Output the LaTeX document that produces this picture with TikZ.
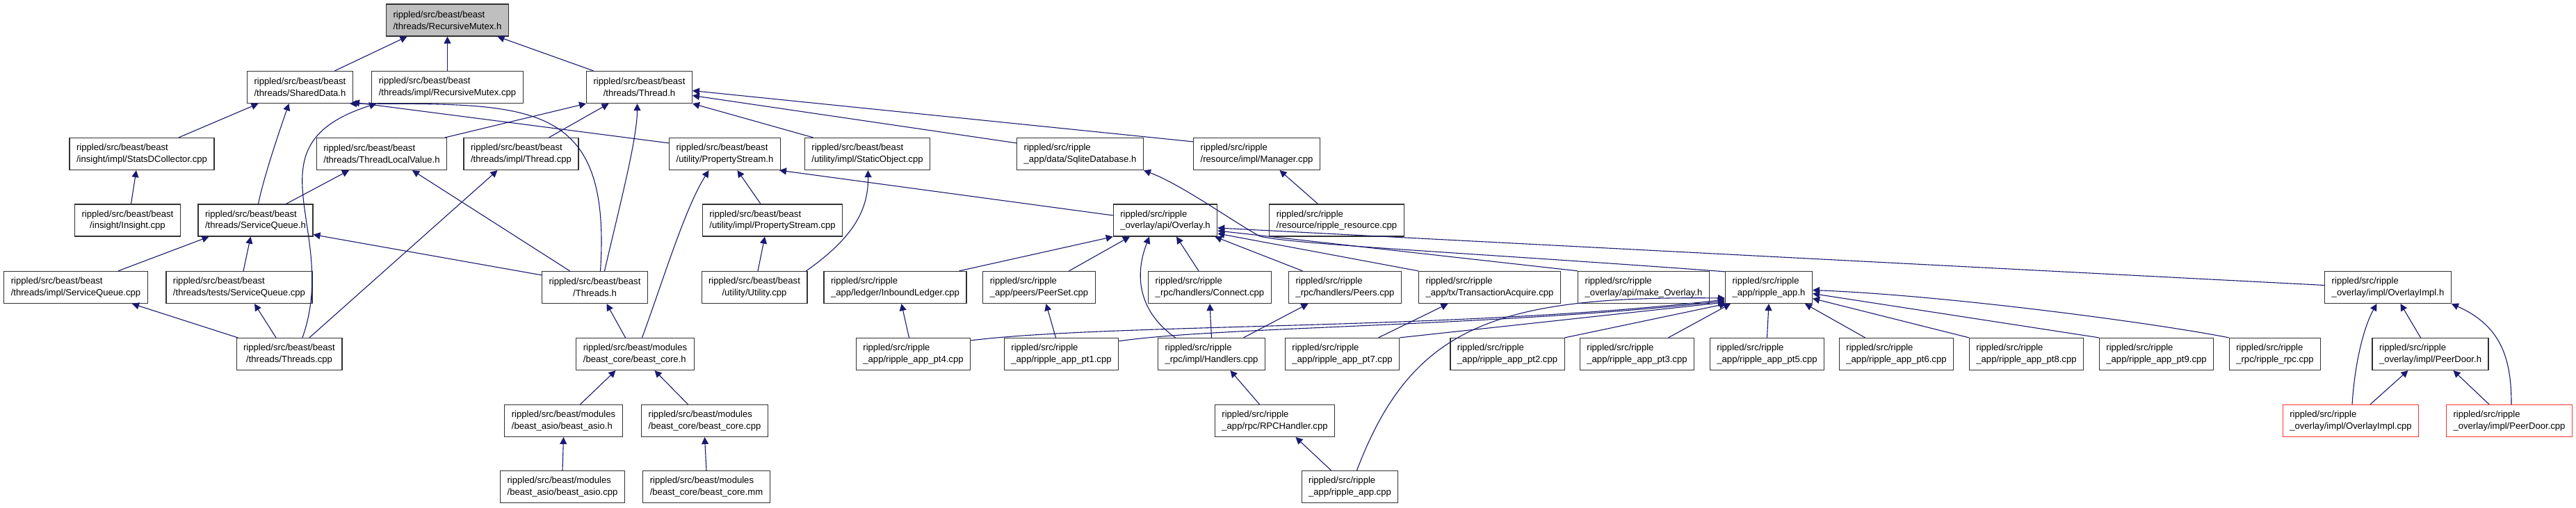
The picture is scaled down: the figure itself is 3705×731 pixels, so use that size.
\documentclass[tikz,border=0pt]{standalone}
\usepackage{fontspec}
\setmainfont{Liberation Sans}
\usepackage{tikz}
\usetikzlibrary{arrows.meta,calc}
\definecolor{edgeblue}{RGB}{25,25,112}
\definecolor{rootgray}{RGB}{191,191,191}
\definecolor{boxline}{RGB}{50,50,50}
\definecolor{hotred}{RGB}{255,50,50}

\tikzset{
  file/.style={draw=boxline, fill=white, line width=0.6pt, inner xsep=5pt, inner ysep=0pt,
    minimum height=23pt, font=\fontsize{6.55}{8.35}\selectfont},
  filel/.style={file, align=left},
  filec/.style={file, align=center},
  rootfile/.style={filel, fill=rootgray},
  hotfile/.style={filel, draw=hotred},
  inc/.style={draw=edgeblue, line width=0.55pt, -{Triangle[length=5pt,width=5pt]}},
}

\begin{document}
\begin{tikzpicture}[x=0.5pt, y=-0.5pt]
    \useasboundingbox (0,0) rectangle (3705,731);

    % beast: threads and utility
    \node[rootfile] (rmh) at (643.5,29) {rippled/src/beast/beast\\/threads/RecursiveMutex.h};
    \node[filel] (sdh) at (431.5,125.5) {rippled/src/beast/beast\\/threads/SharedData.h};
    \node[filel] (rmc) at (643.5,125.5) {rippled/src/beast/beast\\/threads/impl/RecursiveMutex.cpp};
    \node[filec] (thh) at (919.5,125.5) {rippled/src/beast/beast\\/threads/Thread.h};
    \node[filel] (sdc) at (204,221.5) {rippled/src/beast/beast\\/insight/impl/StatsDCollector.cpp};
    \node[filel] (tlv) at (549,221.5) {rippled/src/beast/beast\\/threads/ThreadLocalValue.h};
    \node[filel] (thc) at (749.5,221.5) {rippled/src/beast/beast\\/threads/impl/Thread.cpp};
    \node[filel] (psh) at (1042.5,221.5) {rippled/src/beast/beast\\/utility/PropertyStream.h};
    \node[filel] (soc) at (1247.5,221.5) {rippled/src/beast/beast\\/utility/impl/StaticObject.cpp};
    \node[filel] (sqd) at (1553.5,221.5) {rippled/src/ripple\\\_app/data/SqliteDatabase.h};
    \node[filel] (mgr) at (1807.5,221.5) {rippled/src/ripple\\/resource/impl/Manager.cpp};
    \node[filec] (ins) at (183.5,317) {rippled/src/beast/beast\\/insight/Insight.cpp};
    \node[filel] (sqh) at (367.5,317) {rippled/src/beast/beast\\/threads/ServiceQueue.h};
    \node[filel] (psc) at (1111,317) {rippled/src/beast/beast\\/utility/impl/PropertyStream.cpp};
    \node[filel] (ovh) at (1676,317) {rippled/src/ripple\\\_overlay/api/Overlay.h};
    \node[filel] (res) at (1922.5,317) {rippled/src/ripple\\/resource/ripple\_resource.cpp};
    \node[filel] (sqc) at (109,413.5) {rippled/src/beast/beast\\/threads/impl/ServiceQueue.cpp};
    \node[filel] (sqt) at (344,413.5) {rippled/src/beast/beast\\/threads/tests/ServiceQueue.cpp};
    \node[filec] (ths) at (855.5,413.5) {rippled/src/beast/beast\\/Threads.h};
    \node[filec] (utc) at (1085,413.5) {rippled/src/beast/beast\\/utility/Utility.cpp};
    \node[filec] (tsc) at (416,509.5) {rippled/src/beast/beast\\/threads/Threads.cpp};

    % beast modules
    \node[filel] (bch) at (913.5,509.5) {rippled/src/beast/modules\\/beast\_core/beast\_core.h};
    \node[filel] (bah) at (810.5,605.5) {rippled/src/beast/modules\\/beast\_asio/beast\_asio.h};
    \node[filel] (bcc) at (1013.5,605.5) {rippled/src/beast/modules\\/beast\_core/beast\_core.cpp};
    \node[filel] (bac) at (809,700.5) {rippled/src/beast/modules\\/beast\_asio/beast\_asio.cpp};
    \node[filel] (bcm) at (1016,700.5) {rippled/src/beast/modules\\/beast\_core/beast\_core.mm};

    % ripple
    \node[filel] (ibl) at (1287.5,413.5) {rippled/src/ripple\\\_app/ledger/InboundLedger.cpp};
    \node[filel] (pst) at (1494.5,413.5) {rippled/src/ripple\\\_app/peers/PeerSet.cpp};
    \node[filel] (con) at (1740,413.5) {rippled/src/ripple\\\_rpc/handlers/Connect.cpp};
    \node[filel] (prs) at (1934.5,413.5) {rippled/src/ripple\\\_rpc/handlers/Peers.cpp};
    \node[filel] (txa) at (2142.5,413.5) {rippled/src/ripple\\\_app/tx/TransactionAcquire.cpp};
    \node[filel] (mko) at (2364,413.5) {rippled/src/ripple\\\_overlay/api/make\_Overlay.h};
    \node[filel] (rah) at (2544,413.5) {rippled/src/ripple\\\_app/ripple\_app.h};
    \node[filel] (oih) at (3434.5,413.5) {rippled/src/ripple\\\_overlay/impl/OverlayImpl.h};
    \foreach \n/\x in {4/1313.5, 1/1526.5, 7/1930.5, 2/2168, 3/2354.5, 5/2541.5, 6/2727.5, 8/2914.5, 9/3101.5}
      \node[filel] (pt\n) at (\x,509.5) {rippled/src/ripple\\\_app/ripple\_app\_pt\n.cpp};
    \node[filel] (hdl) at (1742.5,509.5) {rippled/src/ripple\\\_rpc/impl/Handlers.cpp};
    \node[filel] (rpc) at (3272,509.5) {rippled/src/ripple\\\_rpc/ripple\_rpc.cpp};
    \node[filel] (pdh) at (3495.5,509.5) {rippled/src/ripple\\\_overlay/impl/PeerDoor.h};
    \node[filel] (rpch) at (1833.5,605.5) {rippled/src/ripple\\\_app/rpc/RPCHandler.cpp};
    \node[hotfile] (oic) at (3381,605.5) {rippled/src/ripple\\\_overlay/impl/OverlayImpl.cpp};
    \node[hotfile] (pdc) at (3609,605.5) {rippled/src/ripple\\\_overlay/impl/PeerDoor.cpp};
    \node[filel] (rac) at (1941.5,700.5) {rippled/src/ripple\\\_app/ripple\_app.cpp};

    % includes, beast side
    \draw[inc] ($(sdh.north)+(50,0)$) -- ($(rmh.south)+(-58,0)$);
    \draw[inc] (rmc.north) -- (rmh.south);
    \draw[inc] ($(thh.north)+(-66,0)$) -- ($(rmh.south)+(72,0)$);
    \draw[inc] ($(sdc.north)+(53,0)$) -- ($(sdh.south)+(-60,0)$);
    \draw[inc] ($(sqh.north)+(4,0)$) .. controls +(8,-40) and +(-12,35) .. ($(sdh.south)+(-16,0)$);
    \draw[inc] ($(psh.north west)+(0,8)$) -- ($(sdh.south east)+(-1,-2)$);
    \draw[inc] ($(ths.north)+(8,0)$) .. controls (880,140) and (760,150) .. ($(sdh.south east)+(-5,0)$);
    \draw[inc] ($(tsc.north)+(19,0)$) .. controls (490,330) and (350,210) .. ($(rmc.south west)+(7,0)$);
    \draw[inc] ($(tlv.north east)+(-3,0)$) -- (thh.south west);
    \draw[inc] ($(thc.north)+(40,0)$) -- ($(thh.south)+(-44,0)$);
    \draw[inc] ($(ths.north)+(14,0)$) .. controls +(21,-91) and +(0,51) .. ($(thh.south)+(-3,0)$);
    \draw[inc] ($(soc.north)+(-78,0)$) -- (thh.south east);
    \draw[inc] ($(sqd.north west)+(0,8)$) -- ($(thh.east)+(0,12)$);
    \draw[inc] ($(mgr.north west)+(0,6)$) -- ($(thh.east)+(0,5)$);
    \draw[inc] ($(ins.north)+(5,0)$) -- ($(sdc.south)+(-8,0)$);
    \draw[inc] ($(sqh.north)+(44,0)$) -- ($(tlv.south)+(-47,0)$);
    \draw[inc] ($(ths.north)+(-36,0)$) -- ($(tlv.south)+(44,0)$);
    \draw[inc] ($(tsc.north)+(29,0)$) -- ($(thc.south)+(-34,0)$);
    \draw[inc] ($(bch.north)+(10,0)$) .. controls (955,400) and (985,300) .. ($(psh.south)+(-23,0)$);
    \draw[inc] ($(psc.north)+(-17,0)$) -- ($(psh.south)+(18,0)$);
    \draw[inc] ($(ovh.west)+(0,-7)$) -- ($(psh.south east)+(-2,0)$);
    \draw[inc] ($(utc.north)+(5,0)$) -- ($(psc.south)+(-11,0)$);
    \draw[inc] ($(utc.north east)+(-2,0)$) .. controls (1230,340) and (1249,300) .. ($(soc.south)+(1,0)$);
    \draw[inc] ($(rah.north west)+(0,1)$) .. controls (2150,366) and (1860,352) .. (1812,340)
      .. controls (1772,318) and (1700,266) .. (sqd.south east);
    \draw[inc] ($(res.north)+(-27,0)$) -- ($(mgr.south)+(33,0)$);
    \draw[inc] ($(sqc.north)+(61,0)$) -- ($(sqh.south)+(-67,0)$);
    \draw[inc] ($(sqt.north)+(6,0)$) -- ($(sqh.south)+(-7,0)$);
    \draw[inc] ($(ths.north west)+(0,6)$) -- ($(sqh.south east)+(0,-3)$);
    \draw[inc] ($(tsc.north)+(-74,0)$) -- ($(sqc.south)+(81,0)$);
    \draw[inc] ($(tsc.north)+(-19,0)$) -- ($(sqt.south)+(22,0)$);
    \draw[inc] ($(bch.north)+(-14,0)$) -- ($(ths.south)+(17,0)$);
    \draw[inc] ($(bah.north)+(24,0)$) -- ($(bch.south)+(-28,0)$);
    \draw[inc] ($(bcc.north)+(-24,0)$) -- ($(bch.south)+(28,0)$);
    \draw[inc] (bac.north) -- (bah.south);
    \draw[inc] (bcm.north) -- (bcc.south);

    % includes, ripple side
    \draw[inc] ($(ibl.north)+(92,0)$) -- (ovh.south west);
    \draw[inc] ($(pst.north)+(43,0)$) -- ($(ovh.south)+(-51,0)$);
    \draw[inc] ($(hdl.north)+(-52,0)$) .. controls (1640,450) and (1630,400) .. ($(ovh.south)+(-23,0)$);
    \draw[inc] ($(con.north)+(-16,0)$) -- ($(ovh.south)+(16,0)$);
    \draw[inc] ($(prs.north)+(-61,0)$) -- ($(ovh.south east)+(-4,0)$);
    \draw[inc] (txa.north west) -- ($(ovh.east)+(0,19)$);
    \draw[inc] (mko.north west) -- ($(ovh.east)+(0,15)$);
    \draw[inc] ($(oih.west)+(0,-3)$) -- ($(ovh.east)+(0,11)$);
    \draw[inc] ($(pt4.north)+(-6,0)$) -- ($(ibl.south)+(9,0)$);
    \draw[inc] ($(pt1.north)+(-8,0)$) -- ($(pst.south)+(10,0)$);
    \draw[inc] (hdl.north) -- (con.south);
    \draw[inc] ($(hdl.north)+(46,0)$) -- ($(prs.south)+(-53,0)$);
    \draw[inc] ($(pt7.north)+(52,0)$) -- ($(txa.south)+(-60,0)$);
    \draw[inc] ($(pt4.north east)+(0,4)$) .. controls (1600,465) and (2100,475) .. ($(rah.south west)+(0,-6)$);
    \draw[inc] ($(pt1.north east)+(0,5)$) .. controls (1750,470) and (2150,470) .. ($(rah.south west)+(0,-4)$);
    \draw[inc] (pt7.north east) -- ($(rah.south west)+(0,-2)$);
    \draw[inc] (pt2.north east) -- ($(rah.south west)+(2,0)$);
    \draw[inc] ($(pt3.north)+(45,0)$) -- ($(rah.south west)+(8,0)$);
    \draw[inc] ($(rac.north)+(10,0)$) .. controls (2030,470) and (2150,425) .. ($(rah.south west)+(0,-8)$);
    \draw[inc] (pt5.north) -- (rah.south);
    \draw[inc] ($(pt6.north)+(-45,0)$) -- ($(rah.south)+(52,0)$);
    \draw[inc] (pt8.north west) -- ($(rah.east)+(0,16)$);
    \draw[inc] (pt9.north west) -- ($(rah.east)+(0,9)$);
    \draw[inc] (rpc.north west) .. controls (3100,465) and (2800,425) .. ($(rah.east)+(0,4)$);
    \draw[inc] ($(rpch.north)+(-22,0)$) -- ($(hdl.south)+(27,0)$);
    \draw[inc] ($(rac.north)+(-27,0)$) -- ($(rpch.south)+(30,0)$);
    \draw[inc] ($(oic.north)+(2,0)$) .. controls (3387,520) and (3400,470) .. ($(oih.south)+(-16,0)$);
    \draw[inc] ($(pdh.north)+(-14,0)$) -- ($(oih.south)+(18,0)$);
    \draw[inc] ($(pdc.north)+(3,0)$) .. controls (3612,520) and (3600,470) .. (oih.south east);
    \draw[inc] ($(oic.north)+(28,0)$) -- ($(pdh.south)+(-32,0)$);
    \draw[inc] ($(pdc.north)+(-29,0)$) -- ($(pdh.south)+(33,0)$);
\end{tikzpicture}
\end{document}
